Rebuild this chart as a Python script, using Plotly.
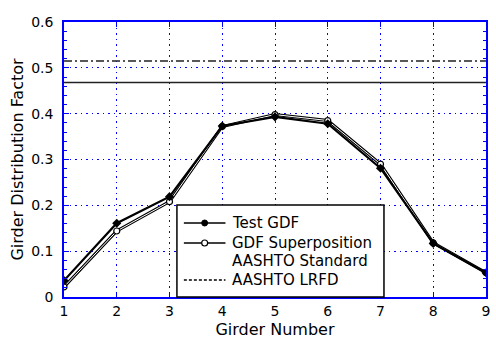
import plotly.graph_objects as go

girders = [1, 2, 3, 4, 5, 6, 7, 8, 9]
test_gdf = [0.036, 0.161, 0.219, 0.373, 0.393, 0.378, 0.281, 0.117, 0.053]
superposition = [0.022, 0.144, 0.208, 0.372, 0.398, 0.385, 0.290, 0.118, 0.053]
aashto_standard = 0.468
aashto_lrfd = 0.515
x_span = [1, 9]
legend_names = ["Test GDF", "GDF Superposition", "AASHTO Standard", "AASHTO LRFD"]

FONT = "DejaVu Sans"
BLUE = "#0000ff"
DOT = "1.5px,4px"

fig = go.Figure()
fig.add_trace(go.Scatter(x=x_span, y=[aashto_standard] * 2, mode="lines", yaxis="y2",
                         line=dict(color="#222222", width=1.6), showlegend=False))
fig.add_trace(go.Scatter(x=x_span, y=[aashto_lrfd] * 2, mode="lines",
                         line=dict(color="#222222", width=1.6, dash="8px,3px,2px,3px"),
                         showlegend=False))
fig.add_trace(go.Scatter(x=girders, y=superposition, mode="lines",
                         line=dict(color="black", width=3), showlegend=False))
fig.add_trace(go.Scatter(x=girders, y=superposition, mode="lines+markers",
                         line=dict(color="white", width=1),
                         marker=dict(symbol="circle", size=6, color="white",
                                     line=dict(color="black", width=1.2)),
                         showlegend=False))
fig.add_trace(go.Scatter(x=girders, y=test_gdf, mode="lines+markers",
                         line=dict(color="black", width=2.2),
                         marker=dict(symbol="diamond", size=7, color="black"),
                         showlegend=False))

# manual legend
L, T, W, H = 64, 22, 426, 275
def px(x):
    return (x - L) / W
def py(y):
    return (T + H - y) / H

shapes = [dict(type="rect", xref="paper", yref="paper", x0=px(178), x1=px(387),
               y0=py(297), y1=py(205), fillcolor="white",
               line=dict(color="black", width=1.5), layer="above")]
rows = [223, 243, 261, 280]
styles = ["solid", "solid", None, "3px,2px"]
for r, st in zip(rows, styles):
    if st:
        shapes.append(dict(type="line", xref="paper", yref="paper", x0=px(185), x1=px(227),
                           y0=py(r), y1=py(r), line=dict(color="black", width=1.3, dash=st),
                           layer="above"))
shapes.append(dict(type="circle", xref="paper", yref="paper", x0=px(203), x1=px(209),
                   y0=py(rows[0] + 3), y1=py(rows[0] - 3), fillcolor="black",
                   line=dict(color="black", width=1), layer="above"))
shapes.append(dict(type="circle", xref="paper", yref="paper", x0=px(203), x1=px(209),
                   y0=py(rows[1] + 3), y1=py(rows[1] - 3), fillcolor="white",
                   line=dict(color="black", width=1.2), layer="above"))
annotations = []
for r, name in zip(rows, legend_names):
    annotations.append(dict(x=px(232), y=py(r), xref="paper", yref="paper", text=name,
                            showarrow=False, xanchor="left", yanchor="middle",
                            font=dict(family=FONT, size=15, color="black")))

fig.update_layout(
    width=496, height=342,
    margin=dict(l=L, r=496 - L - W, t=T, b=342 - T - H),
    paper_bgcolor="white", plot_bgcolor="white",
    font=dict(family=FONT, size=14, color="black"),
    shapes=shapes, annotations=annotations, showlegend=False,
    xaxis=dict(range=[1, 9], tick0=1, dtick=1, ticks="inside", ticklen=5,
               tickcolor=BLUE, tickwidth=1, showline=True, linecolor=BLUE, linewidth=1.5,
               mirror="ticks", showgrid=True, gridcolor=BLUE, griddash=DOT, gridwidth=1.2,
               zeroline=False, tickfont=dict(family=FONT, size=14),
               title=dict(text="Girder Number", font=dict(family=FONT, size=16), standoff=6)),
    yaxis=dict(range=[0, 0.6], tick0=0, dtick=0.1, ticks="inside",
               ticklen=5, tickcolor=BLUE, tickwidth=1, showline=True, linecolor=BLUE,
               linewidth=1.5, mirror="ticks", showgrid=True, gridcolor=BLUE, griddash=DOT,
               gridwidth=1.2, zeroline=False, tickfont=dict(family=FONT, size=14),
               ticklabelstandoff=6,
               title=dict(text="Girder Distribution Factor", font=dict(family=FONT, size=16),
                          standoff=4)),
    yaxis2=dict(range=[0, 0.6], tick0=0, dtick=0.02, overlaying="y", side="left",
                ticks="inside", ticklen=3, tickwidth=1.2, tickcolor=BLUE,
                showline=True, linecolor=BLUE, linewidth=1.5, mirror="ticks",
                showticklabels=False, showgrid=False, zeroline=False),
)

fig.write_html("out.html")
